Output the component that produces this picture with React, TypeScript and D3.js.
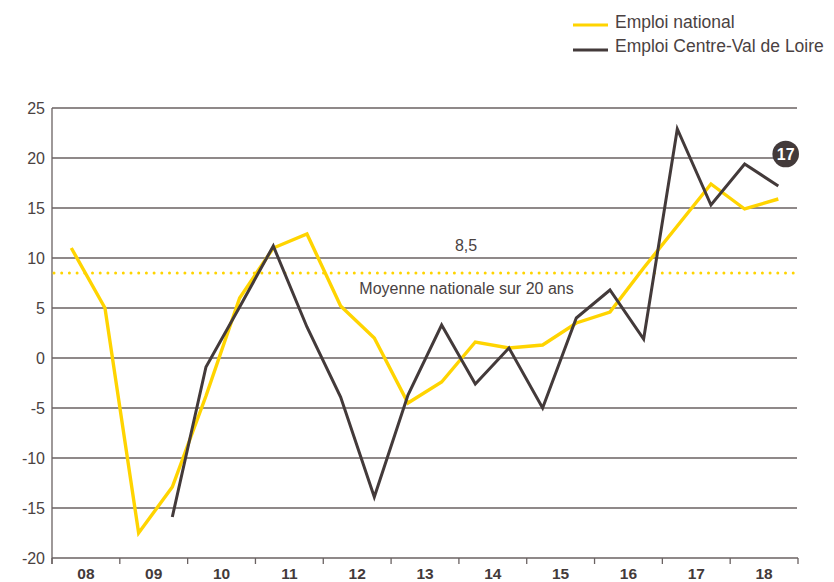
import React from "react";
import * as d3 from "d3";

const years = ["08", "09", "10", "11", "12", "13", "14", "15", "16", "17", "18"];
const yTicks = [25, 20, 15, 10, 5, 0, -5, -10, -15, -20];
// semi-annual points, index 0..21
const national = [11.0, 5.0, -17.5, -12.9, -3.8, 6.0, 11.0, 12.4, 5.2, 2.0, -4.5, -2.4, 1.6, 1.0, 1.3, 3.5, 4.6, 9.0, 13.2, 17.4, 14.9, 15.9];
const regionStart = 3;
const region = [-15.9, -0.9, 5.1, 11.2, 3.1, -3.9, -13.9, -3.7, 3.3, -2.6, 1.0, -5.0, 4.0, 6.8, 1.9, 22.9, 15.3, 19.4, 17.2];
const average = 8.5;
const averageLabel = "8,5";
const averageText = "Moyenne nationale sur 20 ans";
const lastValueLabel = "17";
const legendItems = ["Emploi national", "Emploi Centre-Val de Loire"];

const YELLOW = "#FFD400";
const DARK = "#433a3a";
const TEXT = "#4a4242";
const GRID = "#6a6262";
const FONT = "'Liberation Sans', Arial, Helvetica, sans-serif";

export default function App() {
  const W = 834, H = 582;
  const left = 52, right = 798, top = 108, bottom = 558;
  const y = d3.scaleLinear().domain([-20, 25]).range([bottom, top]);
  const x = d3.scaleLinear().domain([0, 21]).range([71.3, 778.3]);
  const band = d3.scaleBand<string>().domain(years).range([left, right]);

  const line = d3.line<[number, number]>().x((d) => x(d[0])).y((d) => y(d[1]));
  const natPts: [number, number][] = national.map((v, i) => [i, v]);
  const regPts: [number, number][] = region.map((v, i) => [i + regionStart, v]);

  const lastIdx = regionStart + region.length - 1;
  const boundaries = years.map((yr) => band(yr)!).concat([right]);

  return (
    <svg width={W} height={H} style={{ position: "absolute", left: 0, top: 0 }} fontFamily={FONT}>
      <rect width={W} height={H} fill="#fff" />
      {/* legend */}
      <line x1={573} x2={608} y1={25} y2={25} stroke={YELLOW} strokeWidth={3} />
      <text x={615} y={28} fontSize={17.5} fill={TEXT}>{legendItems[0]}</text>
      <line x1={573} x2={608} y1={50} y2={50} stroke={DARK} strokeWidth={3} />
      <text x={615} y={52} fontSize={17.5} fill={TEXT}>{legendItems[1]}</text>

      {/* grid */}
      {yTicks.map((t) => (
        <g key={t}>
          <line x1={left} x2={t === -20 ? right : 797} y1={y(t)} y2={y(t)} stroke={GRID} strokeWidth={1.3} />
          <text x={45} y={y(t) + 5.5} fontSize={16} fill={TEXT} textAnchor="end">{t}</text>
        </g>
      ))}
      <line x1={left} x2={left} y1={top} y2={bottom + 6} stroke={GRID} strokeWidth={1.3} />
      {boundaries.map((b, i) => (
        <line key={i} x1={b} x2={b} y1={bottom} y2={bottom + 6} stroke={GRID} strokeWidth={1.3} />
      ))}
      {years.map((yr) => (
        <text key={yr} x={band(yr)! + band.bandwidth() / 2} y={579} fontSize={15.5} fontWeight="bold" fill={DARK} textAnchor="middle">{yr}</text>
      ))}

      {/* average */}
      <line x1={54} x2={797} y1={y(average)} y2={y(average)} stroke={YELLOW} strokeWidth={3} strokeLinecap="round" strokeDasharray="0 7.7" />
      <text x={466} y={251} fontSize={16} fill={TEXT} textAnchor="middle">{averageLabel}</text>
      <text x={466.5} y={294} fontSize={16} fill={TEXT} textAnchor="middle">{averageText}</text>

      {/* series */}
      <path d={line(natPts)!} fill="none" stroke={YELLOW} strokeWidth={3.4} strokeLinejoin="miter" />
      <path d={line(regPts)!} fill="none" stroke={DARK} strokeWidth={3} strokeLinejoin="miter" />

      {/* badge */}
      <circle cx={x(lastIdx) + 7.4} cy={154} r={13.3} fill={DARK} />
      <text x={x(lastIdx) + 7.4} y={160} fontSize={16} fontWeight="bold" fill="#fff" textAnchor="middle">{lastValueLabel}</text>
    </svg>
  );
}
